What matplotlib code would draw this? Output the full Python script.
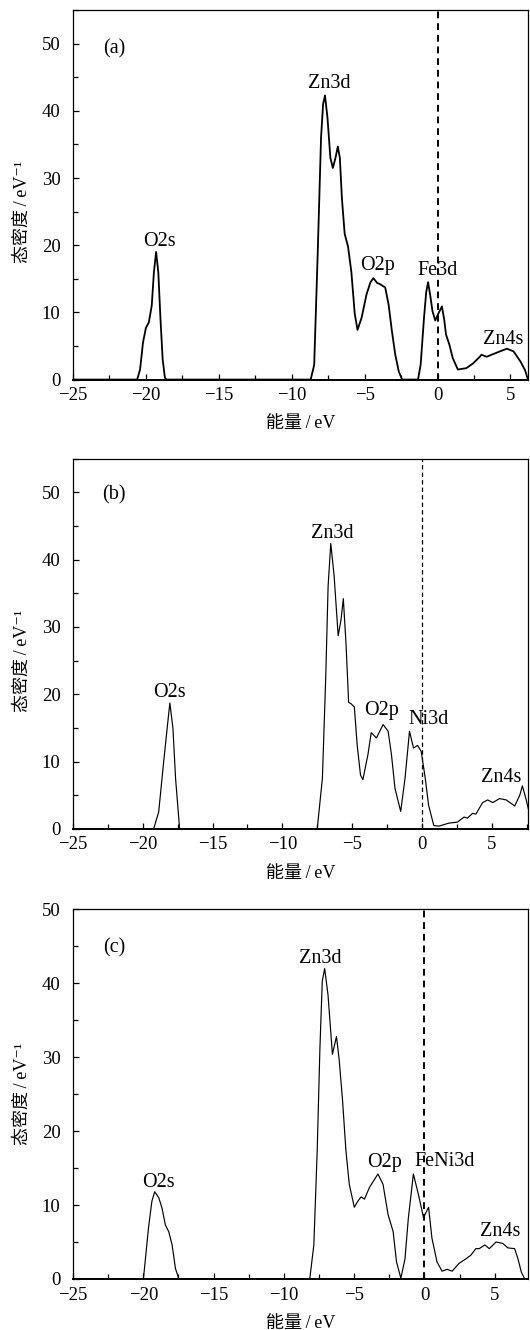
import matplotlib
matplotlib.use("Agg")
import matplotlib.pyplot as plt
from matplotlib.ticker import MultipleLocator

plt.rcParams['font.family'] = ['Liberation Serif', 'Noto Sans CJK SC', 'DejaVu Sans']
plt.rcParams['axes.unicode_minus'] = True

# ---------------- data ----------------
a_energy = [-25, -20.6, -20.4, -20.2, -20.0, -19.8, -19.6, -19.45, -19.3, -19.15, -19.0, -18.85, -18.7, -18.6,
            -8.7, -8.46, -8.22, -7.99, -7.85, -7.72, -7.55, -7.35, -7.18, -7.0, -6.84, -6.7, -6.56, -6.37,
            -6.14, -5.91, -5.68, -5.49, -5.21, -4.87, -4.6, -4.40, -4.15, -3.94, -3.59, -3.36, -3.13, -2.90,
            -2.66, -2.43, -1.34, -1.16, -0.93, -0.78, -0.65, -0.5, -0.35, -0.16, 0.05, 0.30, 0.45, 0.58,
            0.81, 1.04, 1.39, 1.97, 2.43, 2.90, 3.01, 3.36, 4.05, 4.75, 5.21, 5.68, 6.0, 6.2]
a_dos = [0, 0, 1.5, 5.5, 7.7, 8.5, 11, 16, 19.0, 16, 9, 3, 0.3, 0,
         0, 2.2, 18.7, 36, 41, 42.3, 39, 33, 31.5, 33, 34.7, 33, 27.0, 21.7,
         19.8, 16.0, 9.8, 7.4, 9.2, 12.7, 14.5, 15.1, 14.4, 14.2, 13.7, 11.2, 7.2, 3.7,
         1.2, 0, 0, 2.2, 9.2, 13, 14.5, 12.5, 10.2, 8.8, 9.8, 10.9, 9, 6.7,
         5.2, 3.2, 1.5, 1.7, 2.4, 3.4, 3.7, 3.4, 4.0, 4.6, 4.2, 2.7, 1.4, 0]

b_energy = [-25, -19.22, -18.86, -18.5, -18.25, -18.06, -17.84, -17.65, -17.36,
            -7.50, -7.13, -6.89, -6.72, -6.53, -6.29, -6.0, -5.8, -5.63, -5.44, -5.25, -5.08, -4.84,
            -4.64, -4.40, -4.23, -3.87, -3.63, -3.26, -2.78, -2.42, -2.18, -1.93, -1.52, -1.21, -0.89,
            -0.60, -0.31, -0.05, 0.24, 0.48, 0.85, 1.21, 1.93, 2.54, 3.02, 3.26, 3.63, 3.87, 4.35,
            4.71, 5.08, 5.56, 6.04, 6.65, 7.01, 7.2, 7.45, 7.62]
b_dos = [0, 0, 2.5, 10, 15, 18.7, 15, 7.5, 0,
         0, 7.5, 22.6, 36.1, 42.4, 37.6, 28.7, 31, 34.2, 27.6, 18.8, 18.6, 18.1,
         12.5, 8.0, 7.3, 11.0, 14.3, 13.5, 15.5, 14.5, 11, 6, 2.6, 7.5, 14.5,
         12, 12.4, 11.5, 7.5, 3.5, 0.5, 0.4, 0.85, 1.0, 1.75, 1.6, 2.3, 2.2, 3.9,
         4.3, 3.9, 4.5, 4.3, 3.4, 5.0, 6.4, 4.5, 3.0]

c_energy = [-25, -19.99, -19.63, -19.39, -19.19, -18.9, -18.67, -18.43, -18.19, -17.95, -17.71, -17.47,
            -8.16, -7.87, -7.63, -7.44, -7.27, -7.10, -6.86, -6.55, -6.26, -6.07, -5.83, -5.59, -5.35,
            -4.99, -4.75, -4.51, -4.27, -3.91, -3.31, -2.95, -2.59, -2.23, -1.99, -1.68, -1.39, -1.15,
            -0.79, -0.43, -0.07, 0.29, 0.53, 0.89, 1.25, 1.61, 1.97, 2.45, 2.93, 3.29, 3.65, 3.89,
            4.29, 4.61, 5.09, 5.57, 5.93, 6.41, 6.65, 6.89, 7.13, 7.4]
c_dos = [0, 0, 6.9, 10.5, 11.8, 11.0, 9.6, 7.3, 6.4, 4.6, 1.4, 0,
         0, 4.6, 17.4, 31.1, 40.3, 42.0, 38.4, 30.4, 32.8, 29.7, 24.2, 17.4, 12.8,
         9.7, 10.5, 11.1, 10.8, 12.4, 14.2, 12.8, 8.7, 6.4, 2.3, 0.1, 2.7, 8.2,
         14.2, 11.4, 8.3, 9.7, 5.5, 2.3, 1.05, 1.3, 1.05, 2.1, 2.7, 3.2, 4.1, 4.1,
         4.6, 4.1, 5.0, 4.8, 4.2, 4.1, 2.7, 0.9, 0, 0]

panel_tags = ['(a)', '(b)', '(c)']
a_labels = ['O2s', 'Zn3d', 'O2p', 'Fe3d', 'Zn4s']
b_labels = ['O2s', 'Zn3d', 'O2p', 'Ni3d', 'Zn4s']
c_labels = ['O2s', 'Zn3d', 'O2p', 'FeNi3d', 'Zn4s']
x_ticks = [-25, -20, -15, -10, -5, 0, 5]
y_ticks = [0, 10, 20, 30, 40, 50]
x_label = '能量\u2009/\u2009eV'
y_label = '态密度\u2009/\u2009eV\u207b\u00b9'

# ---------------- layout ----------------
fig = plt.figure(figsize=(5.3, 13.3), dpi=100)
axes_rects = [
    [0.1377, 0.7146, 0.8585, 0.2778],
    [0.1377, 0.3768, 0.8585, 0.2783],
    [0.1377, 0.0384, 0.8585, 0.2778],
]
xlims = [(-25, 6.2), (-25, 7.6), (-25, 7.36)]
ylims = [(0, 55), (0, 55), (0, 50)]
energies = [a_energy, b_energy, c_energy]
doses = [a_dos, b_dos, c_dos]
labels = [a_labels, b_labels, c_labels]
curve_lw = [1.3, 0.85, 0.85]
vline_lw = [1.4, 0.9, 1.4]
tag_pos = [(-22.2, 49.3), (-22.1, 49.6), (-22.1, 44.8)]
label_pos = [
    [(-19.1, 20.6), (-7.4, 44.1), (-4.1, 17.0), (0.0, 16.2), (4.5, 6.0)],
    [(-18.06, 20.2), (-6.4, 43.9), (-2.9, 17.6), (0.48, 16.3), (5.7, 7.6)],
    [(-18.9, 13.1), (-7.44, 43.4), (-2.88, 15.8), (1.44, 15.9), (5.4, 6.4)],
]
tick_fs = 13.5
lab_fs = 14.5
axlab_fs = 13

for i in range(3):
    ax = fig.add_axes(axes_rects[i])
    ax.plot(energies[i], doses[i], color='black', lw=curve_lw[i])
    ax.axvline(0, color='black', ls=(0, (3.5, 2.5)), lw=vline_lw[i])
    ax.set_xlim(*xlims[i])
    ax.set_ylim(*ylims[i])
    ax.set_xticks(x_ticks)
    ax.set_yticks(y_ticks)
    ax.xaxis.set_minor_locator(MultipleLocator(2.5))
    ax.yaxis.set_minor_locator(MultipleLocator(5))
    ax.tick_params(which='both', direction='in', top=False, right=False, labelsize=tick_fs)
    ax.tick_params(which='major', length=4.5, width=0.9)
    ax.tick_params(which='minor', length=3.5, width=0.9)
    ax.tick_params(axis='y', pad=9)
    ax.tick_params(axis='x', pad=5.5)
    for s in ax.spines.values():
        s.set_linewidth(0.9)
    ax.spines['bottom'].set_linewidth(1.4)
    ax.set_xlabel(x_label, fontsize=axlab_fs, labelpad=8)
    ax.set_ylabel(y_label, fontsize=axlab_fs)
    ax.yaxis.set_label_coords(-0.092, 25.0 / ylims[i][1])
    ax.text(tag_pos[i][0], tag_pos[i][1], panel_tags[i], fontsize=lab_fs, ha='center', va='center')
    for lab, (lx, ly) in zip(labels[i], label_pos[i]):
        ax.text(lx, ly, lab, fontsize=lab_fs, ha='center', va='center')

fig.savefig('out.png', dpi=100)
